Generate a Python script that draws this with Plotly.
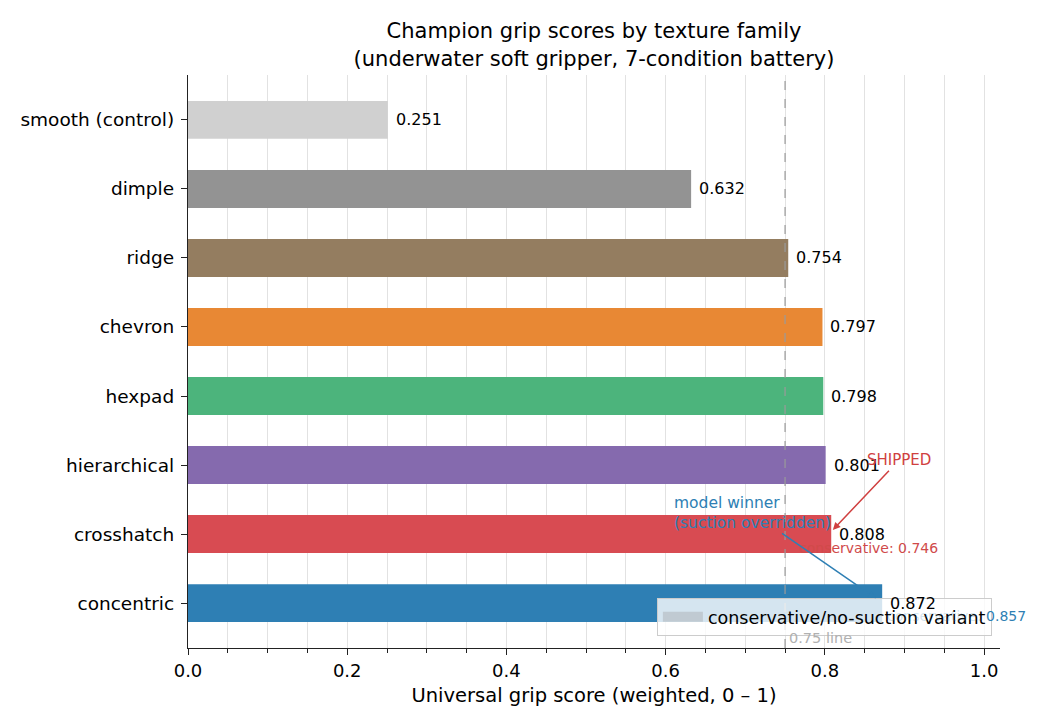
import plotly.graph_objects as go

# data (bottom to top)
families = ["concentric", "crosshatch", "hierarchical", "hexpad",
            "chevron", "ridge", "dimple", "smooth (control)"]
scores = [0.872, 0.808, 0.801, 0.798, 0.797, 0.754, 0.632, 0.251]
colors = ["#2e7fb4", "#d84b52", "#856aae", "#4cb47c",
          "#e88834", "#947d60", "#939393", "#d0d0d0"]
conservative_scores = {"crosshatch": 0.746, "concentric": 0.857}
threshold = 0.75

fig = go.Figure()

fig.add_trace(go.Bar(
    x=scores, y=families, orientation="h", width=0.55,
    marker=dict(color=colors, line=dict(width=0)),
    showlegend=False, hoverinfo="x+y",
))

# legend-only entry (patch look-alike)
fig.add_trace(go.Scatter(
    x=[None], y=[None], mode="lines",
    name="conservative/no-suction variant",
    line=dict(color="rgba(175,180,185,0.55)", width=12),
    hoverinfo="skip",
))

# value labels
for fam, s in zip(families, scores):
    fig.add_annotation(x=s, y=fam, text=f"{s:.3f}", xshift=6, xanchor="left",
                       showarrow=False, font=dict(size=16, color="black"))

# conservative labels
fig.add_annotation(x=0.945, y=0.8, text=f"conservative: {conservative_scores['crosshatch']:.3f}",
                   xanchor="right", showarrow=False, font=dict(size=14, color="#d04a4a"))
fig.add_annotation(x=1.0, y=-0.19, xshift=44,
                   text="<span style='color:rgba(46,127,180,0.22)'>conservative: </span>"
                        f"{conservative_scores['concentric']:.3f}",
                   xanchor="right", showarrow=False, font=dict(size=14, color="#2e7fb4"))

# threshold line
fig.add_shape(type="line", x0=threshold, x1=threshold, y0=0, y1=1, yref="paper",
              line=dict(color="#9a9a9a", width=1.2, dash="dash"))
fig.add_annotation(x=0.752, y=-0.5, text="0.75 line", xanchor="left", showarrow=False,
                   font=dict(size=14.5, color="#b0b0b0"))

# callouts
fig.add_annotation(x=0.81, y=1.06, ax=0.893, ay=2.07, axref="x", ayref="y",
                   text="SHIPPED", font=dict(size=15, color="#d04040"),
                   arrowhead=2, arrowsize=1, arrowwidth=1.5, arrowcolor="#d04040")
fig.add_annotation(x=0.864, y=0.07, ax=0.709, ay=1.306, axref="x", ayref="y",
                   text="model winner<br>(suction overridden)", align="left",
                   font=dict(size=15.5, color="#2e7fb4"),
                   arrowhead=2, arrowsize=1, arrowwidth=1.5, arrowcolor="#2e7fb4")

fig.update_layout(
    width=1042, height=720,
    margin=dict(l=180, r=50, t=67, b=80),
    paper_bgcolor="white", plot_bgcolor="white",
    font=dict(family="DejaVu Sans", size=18, color="black"),
    barmode="overlay",
    title=dict(text="Champion grip scores by texture family<br>(underwater soft gripper, 7-condition battery)",
               x=0.5624, xanchor="center", xref="container",
               y=0.958, yanchor="top",
               font=dict(size=21, color="black")),
    legend=dict(x=0.99, y=0.021, xanchor="right", yanchor="bottom",
                bgcolor="rgba(255,255,255,0.8)", bordercolor="#cccccc", borderwidth=1,
                font=dict(size=17.5), itemwidth=40),
)

fig.update_xaxes(
    range=[0, 1.02], dtick=0.2, tickformat=".1f",
    showline=True, linecolor="#222222", linewidth=1.3,
    ticks="outside", ticklen=6, tickcolor="#222222",
    showgrid=True, gridcolor="#e2e2e2", gridwidth=0.8, zeroline=False,
    minor=dict(dtick=0.05, ticks="outside", ticklen=3.5, tickcolor="#222222",
               showgrid=True, gridcolor="#e2e2e2", gridwidth=0.8),
    title=dict(text="Universal grip score (weighted, 0 – 1)", font=dict(size=19.5), standoff=8),
    tickfont=dict(size=18), automargin=False,
)
fig.update_yaxes(
    type="category", categoryorder="array", categoryarray=families,
    range=[-0.65, 7.65],
    showline=True, linecolor="#222222", linewidth=1.3,
    ticks="outside", ticklen=6, tickcolor="#222222", ticklabelstandoff=3,
    showgrid=False, tickfont=dict(size=18.5), automargin=False,
)

fig.write_html("out.html")
